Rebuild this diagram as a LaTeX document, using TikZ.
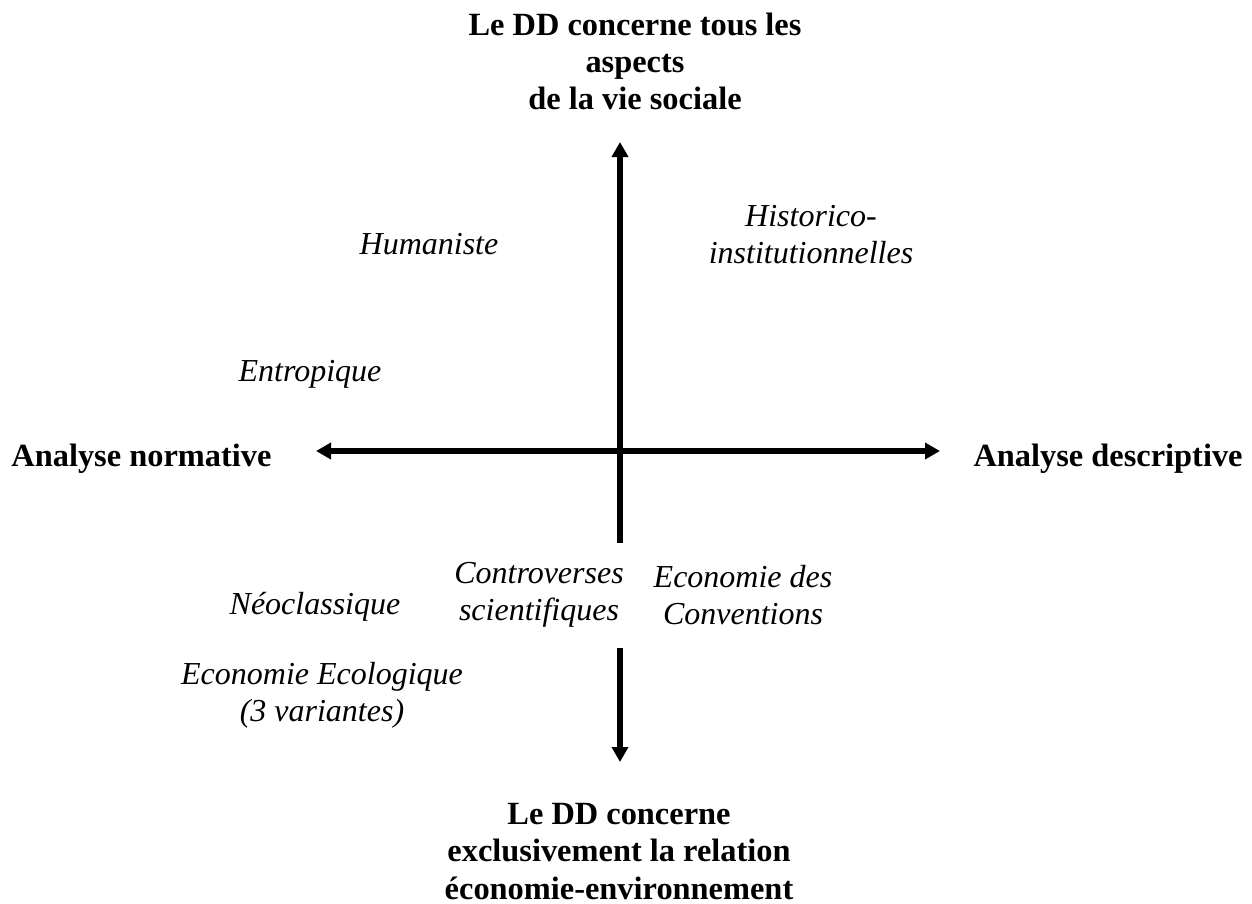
\documentclass[tikz,border=0pt]{standalone}
\usepackage{fontspec}
\setmainfont{Liberation Serif}
\usetikzlibrary{arrows.meta}
\begin{document}
\begin{tikzpicture}[x=0.5pt,y=-0.5pt,
  axis/.style={line width=2.75pt,-{Triangle[length=7.5pt,width=8pt]}},
  axis2/.style={line width=2.6pt,{Triangle[length=7.5pt,width=8pt]}-{Triangle[length=7.5pt,width=8pt]}},
  pole/.style={font=\bfseries\fontsize{16.2pt}{18.6pt}\selectfont,align=center,inner sep=0pt,anchor=base},
  school/.style={font=\itshape\fontsize{16pt}{18.4pt}\selectfont,align=center,inner sep=0pt,anchor=base}]
\useasboundingbox (0,0) rectangle (1252,904);
% axis end points
\coordinate (T) at (620,142);
\coordinate (M1) at (620,543);
\coordinate (M2) at (620,648);
\coordinate (B) at (620,762);
\coordinate (L) at (316,451);
\coordinate (R) at (940,451);
\draw[axis] (M1) -- (T);
\draw[axis] (M2) -- (B);
\draw[axis2] (L) -- (R);
% poles (base = baseline of the last line)
\node[pole] (top) at (635,110) {Le DD concerne tous les\\aspects\\de la vie sociale};
\node[pole,anchor=base west] (left) at (11,466) {Analyse normative};
\node[pole,anchor=base east] (right) at (1243,466) {Analyse descriptive};
\node[pole] (bottom) at (619,899) {Le DD concerne\\exclusivement la relation\\économie-environnement};
% schools
\node[school] (hum) at (429,254) {Humaniste};
\node[school] (hist) at (811,263) {Historico-\\institutionnelles};
\node[school] (ent) at (310,381) {Entropique};
\node[school] (contr) at (539,620) {Controverses\\scientifiques};
\node[school] (conv) at (743,624) {Economie des\\Conventions};
\node[school] (neo) at (315,614) {Néoclassique};
\node[school] (eco) at (322,721) {Economie Ecologique\\(3 variantes)};
\end{tikzpicture}
\end{document}
